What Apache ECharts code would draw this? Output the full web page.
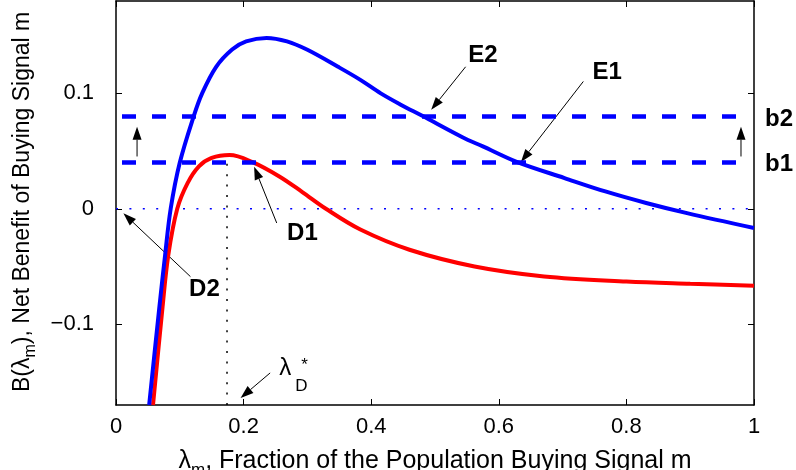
<!DOCTYPE html>
<html>
<head>
<meta charset="utf-8">
<script src="https://cdn.jsdelivr.net/npm/echarts@6/dist/echarts.min.js"></script>
<style>
html, body { margin: 0; padding: 0; background: #fff; }
#chart { width: 796px; height: 470px; }
</style>
</head>
<body>
<div id="chart"></div>
<script>
// tick values and labels
var xTicks = [0, 0.2, 0.4, 0.6, 0.8, 1];
var xTickLabels = ['0', '0.2', '0.4', '0.6', '0.8', '1'];
var yTicks = [-0.1, 0, 0.1];
var yTickLabels = ['\u22120.1', '0', '0.1'];

// blue curve B(lambda)
var blueX = [0.052, 0.068, 0.077, 0.0857, 0.100, 0.122, 0.135, 0.157, 0.182, 0.204, 0.236, 0.268, 0.300, 0.348, 0.383, 0.415, 0.447, 0.480, 0.543, 0.575, 0.629, 0.703, 0.767, 0.831, 0.895, 1.000];
var blueY = [-0.170, -0.085, -0.040, 0.000, 0.040, 0.0805, 0.100, 0.123, 0.138, 0.145, 0.148, 0.145, 0.1377, 0.123, 0.1117, 0.100, 0.090, 0.0805, 0.062, 0.054, 0.0404, 0.0266, 0.015, 0.005, -0.0038, -0.0167];

// red curve
var redX = [0.058, 0.073, 0.082, 0.096, 0.112, 0.130, 0.150, 0.178, 0.214, 0.256, 0.292, 0.329, 0.383, 0.460, 0.562, 0.671, 0.800, 0.900, 1.000];
var redY = [-0.170, -0.085, -0.040, 0.000, 0.022, 0.0367, 0.044, 0.0465, 0.0404, 0.028, 0.0145, 0.000, -0.018, -0.0355, -0.050, -0.0586, -0.063, -0.065, -0.0667];

// cost levels b1, b2 (dashed lines)
var b1 = 0.04, b2 = 0.08;
var dashFrom = 0.0094, dashTo = 0.992;
var lambdaStar = 0.174, redPeak = 0.0465;
var yMin = -0.17, yMax = 0.18;

// annotation arrows: [tail, tip] in data coords
var arrows = [
	[[0.548, 0.123], [0.494, 0.0857]],
	[[0.7325, 0.1103], [0.6347, 0.0406]],
	[[0.2519, -0.0123], [0.2165, 0.0365]],
	[[0.1167, -0.0588], [0.0116, -0.0039]],
	[[0.033, 0.0453], [0.033, 0.0711]],
	[[0.9796, 0.0453], [0.9796, 0.0711]],
	[[0.2416, -0.1422], [0.1953, -0.1639]]
];
// bold point labels: text, left x, baseline y (data coords)
var notes = [['E2', 0.5522, 0.1254], ['E1', 0.7467, 0.1107], ['D1', 0.2682, -0.0288], ['D2', 0.1145, -0.0773]];

var font = '"Liberation Sans", Arial, sans-serif';

function pairs(xs, ys) {
	return xs.map(function(x, i) { return [x, ys[i]]; });
}
function pick(list, labels) {
	return function(v) {
		for (var i = 0; i < list.length; i++) {
			if (Math.abs(list[i] - v) < 1e-9) return labels[i];
		}
		return '';
	};
}

var chart = echarts.init(document.getElementById('chart'));

var lineAx = { show: true, onZero: false, lineStyle: { color: '#000', width: 1.5 } };
var tickSt = { color: '#000', width: 1 };
var lblSt = { color: '#000', fontSize: 22, fontFamily: font };

option = {
	animation: false,
	backgroundColor: '#fff',
	grid: { left: 116, right: 42, top: 1, bottom: 65, outerBoundsMode: 'none' },
	xAxis: [{
		type: 'value', min: 0, max: 1, position: 'bottom',
		axisLine: lineAx,
		axisTick: { inside: true, length: 6, customValues: xTicks, lineStyle: tickSt },
		axisLabel: Object.assign({ customValues: xTicks, formatter: pick(xTicks, xTickLabels), margin: 11 }, lblSt),
		splitLine: { show: false }
	}, {
		type: 'value', min: 0, max: 1, position: 'top',
		axisLine: lineAx,
		axisTick: { inside: true, length: 6, customValues: xTicks, lineStyle: tickSt },
		axisLabel: { show: false },
		splitLine: { show: false }
	}],
	yAxis: [{
		type: 'value', min: yMin, max: yMax, position: 'left',
		axisLine: lineAx,
		axisTick: { inside: true, length: 6, customValues: yTicks, lineStyle: tickSt },
		axisLabel: Object.assign({ customValues: yTicks, formatter: pick(yTicks, yTickLabels), margin: 22 }, lblSt),
		splitLine: { show: false }
	}, {
		type: 'value', min: yMin, max: yMax, position: 'right',
		axisLine: lineAx,
		axisTick: { inside: true, length: 6, customValues: yTicks, lineStyle: tickSt },
		axisLabel: { show: false },
		splitLine: { show: false }
	}],
	series: [{
		// zero reference
		type: 'line', symbol: 'none', silent: true,
		data: [[0, 0], [1, 0]],
		lineStyle: { color: '#0000ff', width: 1.5, type: [2, 11.4] }
	}, {
		// lambda_D* marker
		type: 'line', symbol: 'none', silent: true,
		data: [[lambdaStar, yMin], [lambdaStar, redPeak]],
		lineStyle: { color: '#000', width: 1.5, type: [2, 8.4] }
	}, {
		type: 'line', symbol: 'none', smooth: 0.35,
		data: pairs(redX, redY),
		lineStyle: { color: '#ff0000', width: 4 }
	}, {
		type: 'line', symbol: 'none', smooth: 0.35,
		data: pairs(blueX, blueY),
		lineStyle: { color: '#0000ff', width: 4 }
	}, {
		type: 'line', symbol: 'none', silent: true,
		data: [[dashFrom, b1], [dashTo, b1]],
		lineStyle: { color: '#0000ff', width: 4.5, type: [14, 16] }
	}, {
		type: 'line', symbol: 'none', silent: true,
		data: [[dashFrom, b2], [dashTo, b2]],
		lineStyle: { color: '#0000ff', width: 4.5, type: [14, 16] }
	}]
};
chart.setOption(option);

// ---- annotations (arrows, labels, axis names) ----
var ctx = document.createElement('canvas').getContext('2d');
function measure(t, size, weight) {
	ctx.font = (weight || 'normal') + ' ' + size + 'px ' + font;
	return ctx.measureText(t).width;
}
function px(p) {
	return chart.convertToPixel({ gridIndex: 0 }, p);
}
function txt(t, x, base, size, weight, align) {
	return {
		type: 'text', x: x, y: base - 0.35 * size, silent: true,
		style: { text: t, font: (weight || 'normal') + ' ' + size + 'px ' + font, fill: '#000',
			textAlign: align || 'left', textVerticalAlign: 'middle' }
	};
}
// a run of text pieces [text, size, weight, dy] laid out left to right
function run(segs, x0, base, rot) {
	var kids = [], x = 0;
	segs.forEach(function(s) {
		kids.push(txt(s[0], x, s[3] || 0, s[1], s[2]));
		x += measure(s[0], s[1], s[2]);
	});
	return { width: x, el: { type: 'group', x: x0, y: base, rotation: rot || 0, children: kids } };
}

var g = [];
arrows.forEach(function(a) {
	var p = px(a[0]), q = px(a[1]);
	var dx = q[0] - p[0], dy = q[1] - p[1], len = Math.sqrt(dx * dx + dy * dy);
	var ux = dx / len, uy = dy / len, hl = 13, hw = 4.5;
	var bx = q[0] - ux * hl, by = q[1] - uy * hl;
	g.push({ type: 'line', silent: true, shape: { x1: p[0], y1: p[1], x2: bx, y2: by }, style: { stroke: '#000', lineWidth: 1 } });
	g.push({ type: 'polygon', silent: true, shape: { points: [[q[0], q[1]], [bx - uy * hw, by + ux * hw], [bx + uy * hw, by - ux * hw]] }, style: { fill: '#000' } });
});
notes.forEach(function(n) {
	var p = px([n[1], n[2]]);
	g.push(txt(n[0], p[0], p[1], 24, 'bold'));
});
var right = px([1, 0])[0];
g.push(txt('b2', right + 39, px([0, b2])[1] + 11, 24, 'bold', 'right'));
g.push(txt('b1', right + 39, px([0, b1])[1] + 10, 24, 'bold', 'right'));

// lambda_D^* label
var ls = px([0.2557, -0.1457]);
g.push(txt('\u03bb', ls[0], ls[1], 24));
g.push(txt('D', ls[0] + 16, ls[1] + 15, 17));
g.push(txt('*', ls[0] + 22, ls[1] - 6, 17));

// axis names
var xr = run([['\u03bb', 25], ['m', 17, 'normal', 6], [', Fraction of the Population Buying Signal m', 25]], 0, 0);
var bl = px([0, yMin]);
xr.el.x = (bl[0] + right) / 2 - xr.width / 2;
xr.el.y = bl[1] + 65;
g.push(xr.el);
var yr = run([['B(\u03bb', 23], ['m', 16, 'normal', 5], ['), Net Benefit of Buying Signal m', 23]], 31, 392, Math.PI / 2);
g.push(yr.el);

chart.setOption({ graphic: { elements: g } });
</script>
</body>
</html>
